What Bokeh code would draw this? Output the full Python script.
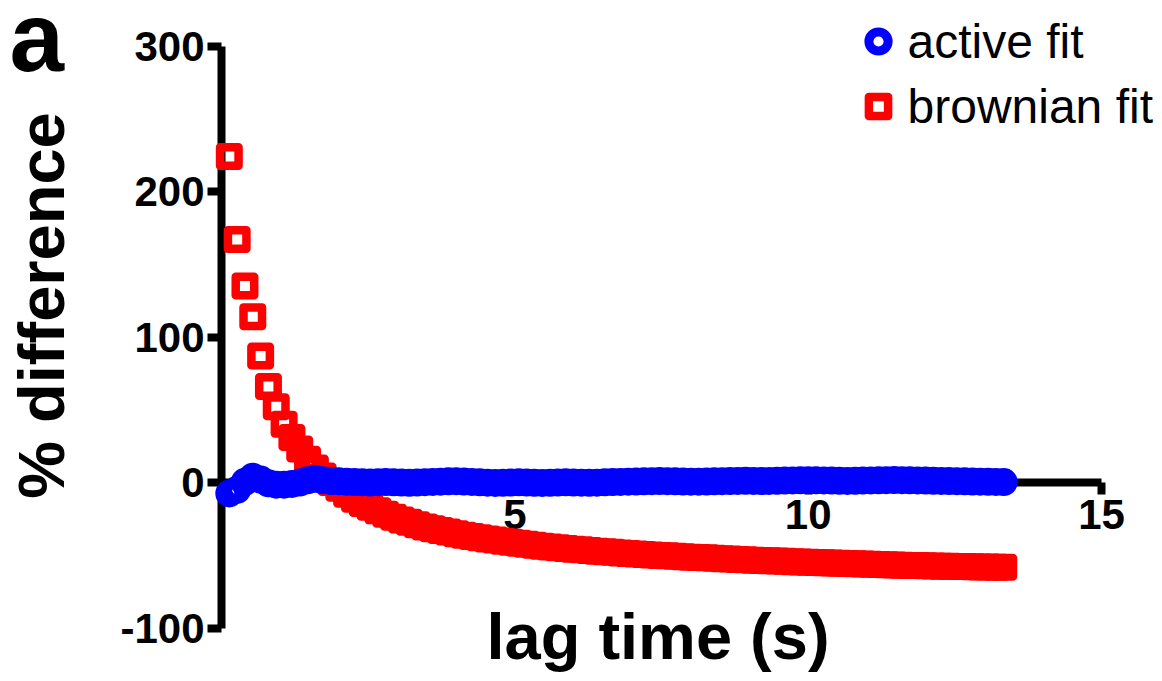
import math
from bokeh.plotting import figure
from bokeh.models import Range1d, FixedTicker, Label, Legend, LegendItem
from bokeh.embed import file_html
from bokeh.resources import INLINE

# ---------------- data ----------------
lag_time = [0.133, 0.267, 0.4, 0.533, 0.667, 0.8, 0.933, 1.067, 1.2, 1.333,
            1.467, 1.6, 1.733, 1.867, 2.0, 2.133, 2.267, 2.4, 2.533, 2.667,
            2.8, 2.933, 3.067, 3.2, 3.333, 3.467, 3.6, 3.733, 3.867, 4.0,
            4.133, 4.267, 4.4, 4.533, 4.667, 4.8, 4.933, 5.067, 5.2, 5.333,
            5.467, 5.6, 5.733, 5.867, 6.0, 6.133, 6.267, 6.4, 6.533, 6.667,
            6.8, 6.933, 7.067, 7.2, 7.333, 7.467, 7.6, 7.733, 7.867, 8.0,
            8.133, 8.267, 8.4, 8.533, 8.667, 8.8, 8.933, 9.067, 9.2, 9.333,
            9.467, 9.6, 9.733, 9.867, 10.0, 10.133, 10.267, 10.4, 10.533, 10.667,
            10.8, 10.933, 11.067, 11.2, 11.333, 11.467, 11.6, 11.733, 11.867, 12.0,
            12.133, 12.267, 12.4, 12.533, 12.667, 12.8, 12.933, 13.067, 13.2, 13.333]

active_fit = [-7.5, -5.0, 0.5, 4.0, 2.0, -0.5, -1.5, -1.5, -1.0, 0.0,
              1.5, 2.5, 1.5, 1.0, 0.8, 0.5, 0.3, 0.2, 0.0, 0.2,
              0.3, 0.1, 0.0, -0.2, 0.0, 0.2, 0.4, 0.6, 0.8, 0.9,
              0.7, 0.4, 0.1, -0.1, -0.3, -0.2, 0.0, 0.1, 0.0, -0.2,
              -0.3, -0.2, 0.0, 0.1, 0.0, -0.1, -0.2, -0.1, 0.1, 0.3,
              0.4, 0.6, 0.7, 0.8, 0.9, 1.0, 0.9, 0.8, 0.7, 0.6,
              0.6, 0.7, 0.8, 0.9, 1.0, 1.1, 1.2, 1.1, 1.0, 1.1,
              1.2, 1.3, 1.4, 1.5, 1.6, 1.5, 1.4, 1.3, 1.2, 1.1,
              1.2, 1.3, 1.4, 1.5, 1.6, 1.7, 1.6, 1.5, 1.4, 1.3,
              1.2, 1.1, 1.0, 0.9, 0.8, 0.7, 0.6, 0.5, 0.4, 0.3]

brownian_fit = [224, 167, 135, 114, 87, 66, 52, 40, 31, 23,
                16, 10, 4.5, 0, -4, -8, -11.5, -14.5, -17, -19.5,
                -21.8, -23.8, -25.7, -27.4, -29, -30.5, -31.8, -33, -34.1, -35.2,
                -36.2, -37.1, -38, -38.8, -39.6, -40.3, -41, -41.7, -42.5, -43.2,
                -43.8, -44.4, -44.9, -45.4, -45.9, -46.3, -46.8, -47.2, -47.6, -48.0,
                -48.4, -48.8, -49.1, -49.4, -49.8, -50.1, -50.4, -50.7, -51.0, -51.3,
                -51.6, -51.8, -52.1, -52.4, -52.6, -52.9, -53.1, -53.4, -53.6, -53.8,
                -54.0, -54.2, -54.4, -54.6, -54.8, -55.0, -55.2, -55.4, -55.5, -55.7,
                -55.9, -56.0, -56.2, -56.4, -56.5, -56.7, -56.8, -57.0, -57.1, -57.2,
                -57.4, -57.5, -57.6, -57.7, -57.8, -57.9, -58.0, -58.1, -58.2, -58.3]

x_ticks = [5, 10, 15]
y_ticks = [-100, 0, 100, 200, 300]
series_names = ["active fit", "brownian fit"]

# ---------------- layout (canvas pixels) ----------------
W, H = 1162, 681
X0, XS = 221.0, 58.667     # canvas px of x=0, px per x unit
Y0, YS = 482.0, 1.455      # canvas px of y=0, px per y unit


def dx(px):
    return (px - X0) / XS


def dy(py):
    return (Y0 - py) / YS


p = figure(width=W, height=H, output_backend="svg", toolbar_location=None,
           title=None,
           x_range=Range1d(dx(0), dx(W)), y_range=Range1d(dy(H), dy(0)))
p.min_border = 0
p.min_border_left = 0
p.min_border_right = 0
p.min_border_top = 0
p.min_border_bottom = 0
p.outline_line_color = None
p.grid.visible = False
p.background_fill_color = "white"
p.border_fill_color = "white"

FONT = "Liberation Sans"

for ax in (p.xaxis[0], p.yaxis[0]):
    ax.fixed_location = 0
    ax.level = "underlay"
    ax.axis_line_width = 8
    ax.axis_line_color = "black"
    ax.major_tick_line_width = 8
    ax.major_tick_line_color = "black"
    ax.major_tick_in = 0
    ax.minor_tick_line_color = None
    ax.major_label_text_font = FONT
    ax.major_label_text_font_style = "bold"
    ax.major_label_text_font_size = "42px"
    ax.major_label_text_color = "black"

p.xaxis[0].ticker = FixedTicker(ticks=x_ticks)
p.yaxis[0].ticker = FixedTicker(ticks=y_ticks)
p.yaxis[0].major_label_overrides = {t: str(t) for t in y_ticks}
p.xaxis[0].bounds = (0, 15)
p.yaxis[0].bounds = (-100, 300)
p.xaxis[0].major_tick_out = 12
p.xaxis[0].major_label_standoff = 5
p.yaxis[0].major_tick_out = 14
p.yaxis[0].major_label_standoff = 3

r_brown = p.scatter(lag_time, brownian_fit, marker="square", size=18.5,
                    line_width=8.5, line_color="#ff0000", fill_color=None,
                    line_join="round")
r_active = p.scatter(lag_time, active_fit, marker="circle", size=19,
                     line_width=9, line_color="#0000ff", fill_color=None)

legend = Legend(items=[LegendItem(label=series_names[0], renderers=[r_active]),
                       LegendItem(label=series_names[1], renderers=[r_brown])],
                location=(853.5, 547.5), orientation="vertical",
                glyph_width=48, glyph_height=48, label_standoff=6, spacing=10,
                padding=0, margin=0, label_height=48,
                label_text_font=FONT, label_text_font_size="48px",
                label_text_color="black",
                border_line_color=None, background_fill_alpha=0)
p.add_layout(legend, "center")

p.add_layout(Label(x=dx(657.5), y=dy(636), text="lag time (s)",
                   text_font=FONT, text_font_style="bold", text_font_size="65px",
                   text_align="center", text_baseline="middle", text_color="black"))
p.add_layout(Label(x=dx(41), y=dy(305), text="% difference", angle=math.pi / 2,
                   text_font=FONT, text_font_style="bold", text_font_size="65px",
                   text_align="center", text_baseline="middle", text_color="black"))
p.add_layout(Label(x=dx(9), y=dy(36), text="a",
                   text_font=FONT, text_font_style="bold", text_font_size="98px",
                   text_align="left", text_baseline="middle", text_color="black"))

open("out.html", "w").write(file_html(p, INLINE))
